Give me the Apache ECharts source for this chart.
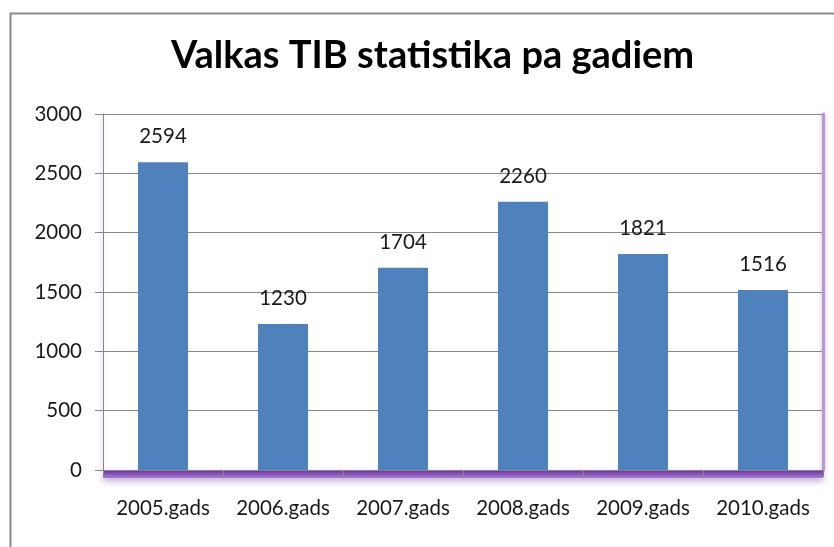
<!DOCTYPE html>
<html>
<head>
<meta charset="utf-8">
<title>Valkas TIB statistika pa gadiem</title>
<script src="https://cdn.jsdelivr.net/npm/echarts@6/dist/echarts.min.js"></script>
<style>
    html, body { margin: 0; padding: 0; background: #fff; }
    #main { width: 834px; height: 547px; }
</style>
</head>
<body>
<div id="main"></div>
<script>
// data
const years = ['2005.gads', '2006.gads', '2007.gads', '2008.gads', '2009.gads', '2010.gads'];
const visitors = [2594, 1230, 1704, 2260, 1821, 1516];

const font = 'Lato, "Open Sans", sans-serif';
const gray = '#868686';
const gridLeft = 103;
const gridRight = 11;

// chart init
const myChart = echarts.init(document.getElementById('main'), null, { renderer: 'canvas' });

const option = {
    animation: false,
    backgroundColor: '#fff',
    title: {
        text: 'Valkas TIB statistika pa gadiem',
        left: 166,
        top: 32,
        textStyle: {
            fontFamily: font,
            fontWeight: 'bold',
            fontSize: 38,
            color: '#000'
        }
    },
    grid: {
        left: gridLeft,
        right: gridRight,
        top: 114,
        bottom: 77,
        outerBoundsMode: 'none'
    },
    xAxis: {
        type: 'category',
        data: years,
        axisLine: { lineStyle: { color: gray, width: 1 } },
        axisTick: { show: true, length: 7, lineStyle: { color: gray } },
        axisLabel: {
            interval: 0,
            margin: 28,
            fontFamily: font,
            fontSize: 20.5,
            color: '#1a1a1a'
        },
        z: 3
    },
    yAxis: [{
        type: 'value',
        min: 0,
        max: 3000,
        interval: 500,
        axisLine: {
            show: true,
            lineStyle: {
                color: gray,
                shadowColor: 'rgba(160,120,210,0.5)',
                shadowBlur: 4,
                shadowOffsetX: -2
            }
        },
        axisTick: { show: true, length: 8, lineStyle: { color: gray } },
        axisLabel: {
            margin: 21,
            fontFamily: font,
            fontSize: 20.5,
            color: '#1a1a1a',
            formatter: v => String(v)
        },
        splitLine: { lineStyle: { color: gray, width: 1 } }
    }, {
        // right wall edge
        type: 'value',
        min: 0,
        max: 3000,
        interval: 500,
        position: 'right',
        axisLine: {
            show: true,
            lineStyle: {
                color: '#b59ad6',
                width: 3,
                shadowColor: 'rgba(150,110,200,0.5)',
                shadowBlur: 4
            }
        },
        axisTick: { show: false },
        axisLabel: { show: false },
        splitLine: { show: false }
    }],
    series: [{
        type: 'bar',
        data: visitors,
        barWidth: 50,
        itemStyle: { color: '#4f81bd' },
        label: {
            show: true,
            position: 'top',
            distance: 15,
            fontFamily: font,
            fontSize: 20.5,
            color: '#1a1a1a'
        },
        z: 4
    }]
};

// paint
myChart.setOption(option);

// outer border + purple floor, placed from the value axis
const y0 = myChart.convertToPixel({ yAxisIndex: 0 }, 0);
myChart.setOption({
    graphic: [{
        type: 'rect',
        left: 8,
        top: 11,
        shape: { width: 860, height: 580 },
        style: { fill: 'none', stroke: '#8c8c8c', lineWidth: 2 },
        silent: true,
        z: 0
    }, {
        type: 'rect',
        shape: { x: gridLeft, y: y0, width: 834 - gridLeft - gridRight, height: 8 },
        style: {
            fill: new echarts.graphic.LinearGradient(0, 0, 0, 1, [
                { offset: 0, color: '#6a2c9c' },
                { offset: 1, color: '#a67fce' }
            ]),
            shadowColor: 'rgba(112,48,160,0.45)',
            shadowBlur: 7,
            shadowOffsetY: 3
        },
        silent: true,
        z: 1
    }]
});
</script>
</body>
</html>
